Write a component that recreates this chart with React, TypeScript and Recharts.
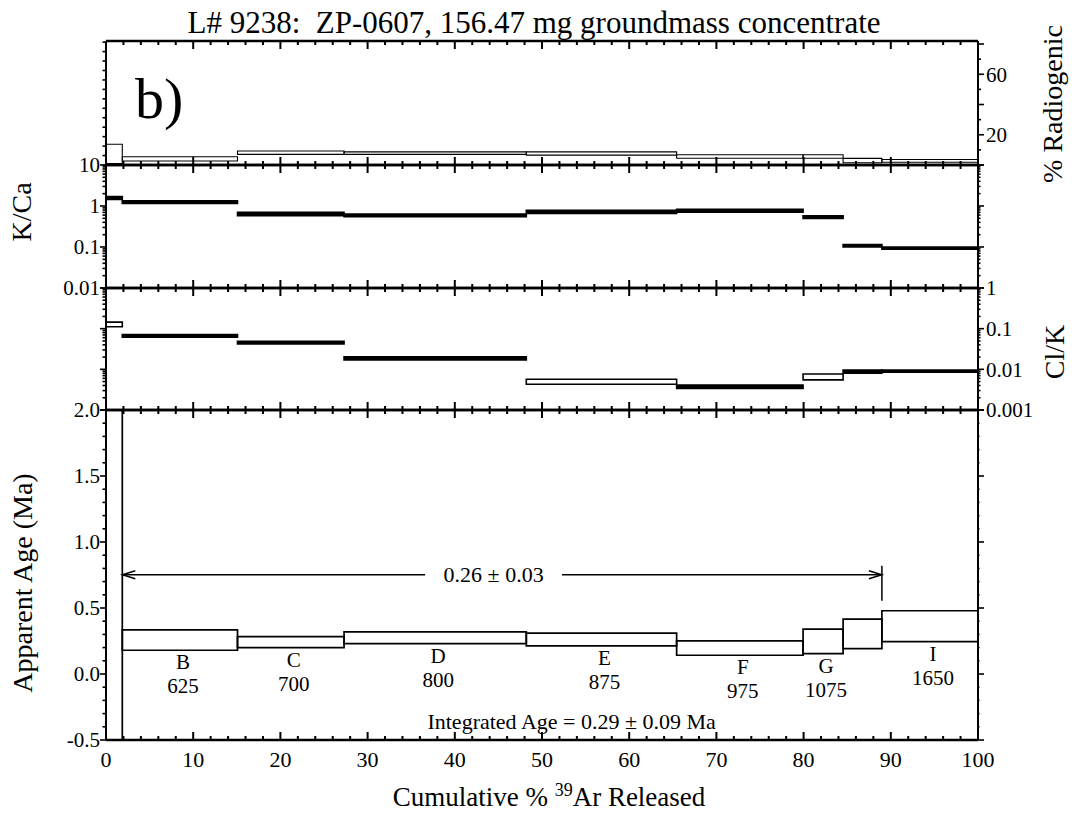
import React from 'react'
import { ComposedChart, XAxis, YAxis, ReferenceArea, ReferenceLine, ReferenceDot } from 'recharts'

const FONT = '"Liberation Serif", "Times New Roman", serif'
const W = 1078
const H = 816
const PLOT_L = 106
const PLOT_R = 978

// heating steps, cumulative % 39Ar released
const stepIds = ['A', 'B', 'C', 'D', 'E', 'F', 'G', 'H', 'I']
const stepTemps = ['', '625', '700', '800', '875', '975', '1075', '', '1650']
const stepStart = [0, 1.87, 15.08, 27.3, 48.2, 65.44, 79.94, 84.53, 88.98]
const stepEnd = [1.87, 15.08, 27.3, 48.2, 65.44, 79.94, 84.53, 88.98, 100]

// % radiogenic (box low / high)
const radLo = [1.0, 2.6, 7.0, 7.0, 6.5, 4.5, 4.5, 1.5, 1.8]
const radHi = [13.7, 5.5, 9.3, 8.7, 8.7, 6.8, 6.8, 4.4, 3.6]
// K/Ca
const kcaLo = [1.45, 1.15, 0.58, 0.55, 0.66, 0.71, 0.5, 0.1, 0.088]
const kcaHi = [1.7, 1.33, 0.7, 0.64, 0.78, 0.83, 0.58, 0.115, 0.1]
// Cl/K
const clkLo = [0.111, 0.062, 0.042, 0.017, 0.0043, 0.0034, 0.0055, 0.008, 0.0085]
const clkHi = [0.145, 0.072, 0.049, 0.0203, 0.0057, 0.0041, 0.0077, 0.0096, 0.0096]
// apparent age, Ma (step A runs off scale both ways)
const ageLo = [-0.6, 0.18, 0.2, 0.23, 0.213, 0.142, 0.154, 0.192, 0.245]
const ageHi = [2.1, 0.334, 0.283, 0.319, 0.309, 0.251, 0.34, 0.416, 0.479]

const plateauFrom = 1.87
const plateauTo = 88.98
const plateauText = '0.26 ± 0.03'
const integratedText = 'Integrated Age = 0.29 ± 0.09 Ma'

// tick values
const xTicks = Array.from({ length: 51 }, (_, i) => i * 2)
const xLabels = [0, 10, 20, 30, 40, 50, 60, 70, 80, 90, 100]
const radLeftTicks = Array.from({ length: 14 }, (_, i) => i * 6.25)
const radRightTicks = [0, 10, 20, 30, 40, 50, 60, 70, 80]
const radLabels = [20, 60]
const ageTicks = Array.from({ length: 26 }, (_, i) => Math.round((i * 0.1 - 0.5) * 10) / 10)

function logTicks(lo: number, hi: number) {
  const out: number[] = []
  for (let d = lo; d < hi; d++) {
    for (let k = 1; k <= 9; k++) out.push(Number((k * Math.pow(10, d)).toPrecision(6)))
  }
  out.push(Math.pow(10, hi))
  return out
}
const kcaTicks = logTicks(-2, 1)
const clkTicks = logTicks(-3, 0)

// rows the x axis is built on
const stepRows = stepStart.map((s, i) => ({ step: stepIds[i], start: s, end: stepEnd[i] }))

type Side = 'bottom' | 'left' | 'right'
const near = (a: number, b: number) => Math.abs(a - b) < 1e-6
const isDecade = (v: number) => near(Math.log10(v), Math.round(Math.log10(v)))
const none = () => null
const xMajor = (v: number) => near(v / 10, Math.round(v / 10))

function tickFn(side: Side, isMajor: (v: number) => boolean, label: (v: number) => string | null, majorLen = 6, minorLen = 3) {
  return (props: any) => {
    const x = Number(props.x)
    const y = Number(props.y)
    const v = Number(props.payload.value)
    const len = isMajor(v) ? majorLen : minorLen
    const txt = label(v)
    const tx = { fontFamily: FONT, fill: '#000' }
    if (side === 'bottom')
      return txt ? <text x={x} y={y + 27} textAnchor="middle" fontSize={22} {...tx}>{txt}</text> : <g />
    if (side === 'left')
      return (
        <g>
          <rect x={x - len} y={y - 0.8} width={len} height={1.6} fill="#000" />
          {txt && <text x={x - 6} y={y} dy="0.35em" textAnchor="end" fontSize={21} {...tx}>{txt}</text>}
        </g>
      )
    return (
      <g>
        <rect x={x} y={y - 0.8} width={len} height={1.6} fill="#000" />
        {txt && <text x={x + 8} y={y} dy="0.35em" textAnchor="start" fontSize={21} {...tx}>{txt}</text>}
      </g>
    )
  }
}

const xBottomPlain = tickFn('bottom', xMajor, none)
const xBottomLabeled = tickFn('bottom', xMajor, (v) => (xLabels.includes(v) ? String(v) : null))

// inward x tick marks on the top and bottom edges of a plot box given in pixels
function frameMarks(x0: number, y0: number, w: number, h: number) {
  return (
    <g>
      {xTicks.map((v) => {
        const x = x0 + (w * v) / 100
        const len = xMajor(v) ? 8 : 4
        return (
          <g key={`fm${v}`}>
            <rect x={x - 1} y={y0} width={2} height={len} fill="#000" />
            <rect x={x - 1} y={y0 + h - len} width={2} height={len} fill="#000" />
          </g>
        )
      })}
    </g>
  )
}

interface PanelProps {
  plotTop: number
  plotH: number
  padTop: number
  padBottom: number
  yDomain: [number, number]
  log?: boolean
  leftTicks: number[]
  rightTicks: number[]
  leftTick: any
  rightTick: any
  bottomTick: any
  children: React.ReactNode
}

// x axes need a non-zero height to be drawn, so they take 1px of the padding
function Panel({ plotTop, plotH, padTop, padBottom, yDomain, log, leftTicks, rightTicks, leftTick, rightTick, bottomTick, children }: PanelProps) {
  const h = padTop + plotH + padBottom
  const xFrame = { stroke: '#000', strokeWidth: 2.6 }
  const yFrame = { stroke: '#000', strokeWidth: 2 }
  return (
    <div style={{ position: 'absolute', left: 0, top: plotTop - padTop, width: W, height: h }}>
      <ComposedChart width={W} height={h} data={stepRows} margin={{ top: padTop - 1, bottom: padBottom - 1, left: 0, right: 0 }}>
        <XAxis xAxisId="b" dataKey="start" type="number" scale="linear" orientation="bottom" domain={[0, 100]} ticks={xLabels} interval={0} height={1}
          tickSize={0} tickMargin={0} tickLine={false} axisLine={xFrame} tick={bottomTick} allowDataOverflow />
        <XAxis xAxisId="t" dataKey="start" type="number" scale="linear" orientation="top" domain={[0, 100]} ticks={xLabels} interval={0} height={1}
          tickSize={0} tickMargin={0} tickLine={false} axisLine={xFrame} tick={false} allowDataOverflow />
        <YAxis yAxisId="l" type="number" orientation="left" scale={log ? 'log' : 'linear'} domain={yDomain} ticks={leftTicks}
          interval={0} width={PLOT_L} tickSize={0} tickMargin={0} tickLine={false} axisLine={yFrame} tick={leftTick} allowDataOverflow />
        <YAxis yAxisId="r" type="number" orientation="right" scale={log ? 'log' : 'linear'} domain={yDomain} ticks={rightTicks}
          interval={0} width={W - PLOT_R} tickSize={0} tickMargin={0} tickLine={false} axisLine={yFrame} tick={rightTick} allowDataOverflow />
        {/* whole plot box, used only to carry the x tick marks */}
        <ReferenceArea xAxisId="b" yAxisId="l" x1={0} x2={100} y1={yDomain[0]} y2={yDomain[1]}
          fill="none" fillOpacity={0} stroke="none"
          label={(p: any) => frameMarks(p.viewBox.x, p.viewBox.y, p.viewBox.width, p.viewBox.height)} />
        {children}
      </ComposedChart>
    </div>
  )
}

// boxes whose spread is tiny on a log axis print as a solid bar
function boxes(lo: number[], hi: number[], sw: number, opts: { labels?: boolean; log?: boolean } = {}) {
  return stepStart.map((s, i) => {
    const solid = !!opts.log && Math.log10(hi[i] / lo[i]) < 0.1
    return (
      <ReferenceArea
        key={stepIds[i]}
        xAxisId="b"
        yAxisId="l"
        x1={s}
        x2={stepEnd[i]}
        y1={lo[i]}
        y2={hi[i]}
        fill={solid ? '#000' : 'none'}
        fillOpacity={solid ? 1 : 0}
        stroke="#000"
        strokeWidth={sw}
        ifOverflow="hidden"
        label={
          opts.labels && stepTemps[i]
            ? (p: any) => {
                const vb = p.viewBox
                const cx = vb.x + vb.width / 2 + 3
                const by = vb.y + vb.height
                return (
                  <g>
                    <text x={cx} y={by + 19} textAnchor="middle" fontSize={21} fontFamily={FONT} fill="#000">{stepIds[i]}</text>
                    <text x={cx} y={by + 43} textAnchor="middle" fontSize={21} fontFamily={FONT} fill="#000">{stepTemps[i]}</text>
                  </g>
                )
              }
            : undefined
        }
      />
    )
  })
}

function arrowShape(head: 'start' | 'end') {
  return (p: any) => {
    const { x1, y1, x2, y2 } = p
    const hx = head === 'start' ? x1 : x2
    const dir = head === 'start' ? 1 : -1
    return (
      <g>
        <line x1={x1} y1={y1} x2={x2} y2={y2} stroke="#000" strokeWidth={1.4} />
        <polyline points={`${hx + dir * 13},${y1 - 4} ${hx},${y1} ${hx + dir * 13},${y1 + 4}`} fill="none" stroke="#000" strokeWidth={1.4} />
      </g>
    )
  }
}

export default function App() {
  const arrowY = 0.752
  const gapL = 36.6
  const gapR = 52.3
  return (
    <div style={{ position: 'absolute', left: 0, top: 0, width: W, height: H, background: '#fff', overflow: 'hidden' }}>
      {/* % radiogenic */}
      <Panel plotTop={41} plotH={124} padTop={41} padBottom={6} yDomain={[0, 82]}
        leftTicks={radLeftTicks} rightTicks={radRightTicks}
        leftTick={tickFn('left', () => false, none, 5, 3.5)}
        rightTick={tickFn('right', (v) => near(v % 20, 0), (v) => (radLabels.includes(v) ? String(v) : null), 6, 3)}
        bottomTick={xBottomPlain}>
        {boxes(radLo, radHi, 1.1)}
      </Panel>
      {/* K/Ca */}
      <Panel plotTop={165} plotH={123} padTop={20} padBottom={20} yDomain={[0.01, 10]} log
        leftTicks={kcaTicks} rightTicks={kcaTicks}
        leftTick={tickFn('left', isDecade, (v) => (isDecade(v) ? String(v) : null), 6, 3.5)}
        rightTick={tickFn('right', isDecade, none, 6, 2.5)}
        bottomTick={xBottomPlain}>
        {boxes(kcaLo, kcaHi, 1.6, { log: true })}
      </Panel>
      {/* Cl/K */}
      <Panel plotTop={288} plotH={122} padTop={20} padBottom={20} yDomain={[0.001, 1]} log
        leftTicks={clkTicks} rightTicks={clkTicks}
        leftTick={tickFn('left', isDecade, none, 6, 3.5)}
        rightTick={tickFn('right', isDecade, (v) => (isDecade(v) ? String(v) : null), 6, 2.5)}
        bottomTick={xBottomPlain}>
        {boxes(clkLo, clkHi, 1.6, { log: true })}
      </Panel>
      {/* apparent age */}
      <Panel plotTop={410} plotH={330} padTop={20} padBottom={76} yDomain={[-0.5, 2.0]}
        leftTicks={ageTicks} rightTicks={ageTicks}
        leftTick={tickFn('left', (v) => near(v * 2, Math.round(v * 2)), (v) => (near(v * 2, Math.round(v * 2)) ? v.toFixed(1) : null), 6, 3.5)}
        rightTick={tickFn('right', (v) => near(v * 2, Math.round(v * 2)), none, 6, 1.5)}
        bottomTick={xBottomLabeled}>
        {boxes(ageLo, ageHi, 1.7, { labels: true })}
        <ReferenceLine xAxisId="b" yAxisId="l" segment={[{ x: plateauFrom, y: arrowY }, { x: gapL, y: arrowY }]} shape={arrowShape('start')} />
        <ReferenceLine xAxisId="b" yAxisId="l" segment={[{ x: gapR, y: arrowY }, { x: plateauTo, y: arrowY }]} shape={arrowShape('end')} />
        <ReferenceLine xAxisId="b" yAxisId="l" segment={[{ x: plateauTo, y: 0.555 }, { x: plateauTo, y: 0.82 }]} stroke="#000" strokeWidth={1.5} />
        <ReferenceLine xAxisId="b" yAxisId="l" segment={[{ x: gapL, y: arrowY }, { x: gapR, y: arrowY }]}
          shape={(p: any) => (
            <text x={(p.x1 + p.x2) / 2} y={p.y1} dy="0.35em" textAnchor="middle" fontSize={22} fontFamily={FONT} fill="#000">{plateauText}</text>
          )} />
        <ReferenceDot xAxisId="b" yAxisId="l" x={53.4} y={-0.36} r={0}
          shape={(p: any) => (
            <text x={p.cx} y={p.cy} dy="0.35em" textAnchor="middle" fontSize={22} fontFamily={FONT} fill="#000">{integratedText}</text>
          )} />
      </Panel>
      <svg width={W} height={H} style={{ position: 'absolute', left: 0, top: 0, pointerEvents: 'none' }} fontFamily={FONT} fill="#000">
        <text x={534} y={33} textAnchor="middle" fontSize={31} style={{ whiteSpace: 'pre' }}>L# 9238:  ZP-0607, 156.47 mg groundmass concentrate</text>
        <text x={135} y={118} fontSize={58}>b)</text>
        <text transform="translate(31,212) rotate(-90)" textAnchor="middle" fontSize={28}>K/Ca</text>
        <text transform="translate(32,583) rotate(-90)" textAnchor="middle" fontSize={28}>Apparent Age (Ma)</text>
        <text transform="translate(1062,104) rotate(-90)" textAnchor="middle" fontSize={28}>% Radiogenic</text>
        <text transform="translate(1064,352) rotate(-90)" textAnchor="middle" fontSize={28}>Cl/K</text>
        <text x={549} y={806} textAnchor="middle" fontSize={27}>
          Cumulative % <tspan dy={-10} fontSize={18}>39</tspan><tspan dy={10}>Ar Released</tspan>
        </text>
      </svg>
    </div>
  )
}
